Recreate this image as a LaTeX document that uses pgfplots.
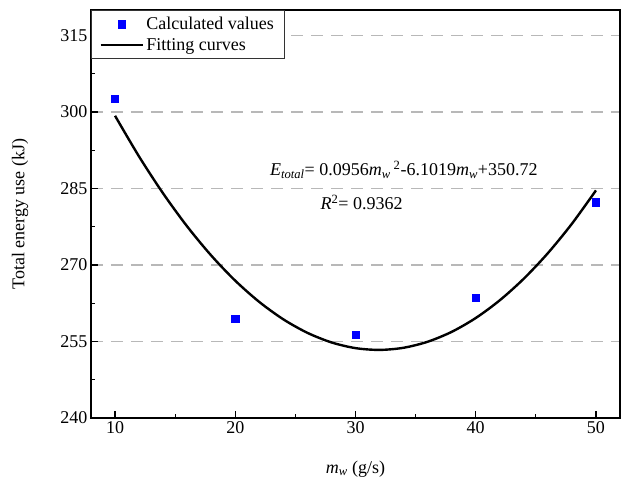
\documentclass[border=0pt]{standalone}
\usepackage{pgfplots}
\pgfplotsset{compat=1.18}
\usepackage{fontspec}
\setmainfont{Liberation Serif}

\pgfplotsset{
	markleg/.style={legend image code/.code={\draw[##1] plot coordinates {(0.75cm,0cm)};}},
	lineleg/.style={legend image code/.code={\draw[##1] (0cm,0cm) -- (1.5cm,0cm);}},
}

\begin{document}
\begin{tikzpicture}[font=\fontsize{18}{21}\selectfont]
	\begin{axis}[
			scale only axis,
			width=529pt,
			height=408pt,
			xmin=8, xmax=52,
			ymin=240, ymax=320,
			xtick={10,20,...,50},
			ytick={240,255,...,315},
			minor x tick num=1,
			minor y tick num=1,
			tick align=inside,
			tick pos=left,
			major tick length=7pt,
			minor tick length=4pt,
			every tick/.style={black, line width=1.2pt},
			axis line style={line width=1.5pt},
			ymajorgrids,
			grid style={black!28, line width=1.5pt, dash pattern=on 12pt off 8pt},
			/pgf/number format/assume math mode=true,
			legend style={
				at={(0,1)}, anchor=north west,
				draw=black!80, line width=0.7pt,
				inner xsep=8pt, inner ysep=5pt,
				row sep=3pt,
				cells={anchor=west},
				font=\fontsize{18}{21}\selectfont,
			},
		]

		% calculated values
		\addplot [only marks, mark=square*, mark size=3.6pt, blue,
			mark options={draw=blue, fill=blue}, markleg]
		table {
		10	302.6
		20	259.4
		30	256.3
		40	263.6
		50	282.3
		};
		\addlegendentry{Calculated values}

		% fitting curve
		\addplot [black, line width=2.4pt, smooth, no marks, lineleg]
		table {
		10	299.26
		12	291.26
		14	284.03
		16	277.56
		18	271.86
		20	266.92
		22	262.75
		24	259.34
		26	256.70
		28	254.82
		30	253.70
		32	253.35
		34	253.77
		36	254.95
		38	256.89
		40	259.60
		42	263.08
		44	267.32
		46	272.32
		48	278.09
		50	284.63
		};
		\addlegendentry{Fitting curves}

		\node[anchor=west] at (axis cs:22.6,288.7)
			{\textit{E}\textsubscript{\textit{total}}= 0.0956\textit{m}\textsubscript{\textit{w}}\,\textsuperscript{2}-6.1019\textit{m}\textsubscript{\textit{w}}+350.72};
		\node[anchor=west] at (axis cs:26.8,282.2)
			{\textit{R}\textsuperscript{2}= 0.9362};
	\end{axis}
	\node[rotate=90] at ([xshift=-71pt]current axis.west) {Total energy use (kJ)};
	\node at ([yshift=-51pt]current axis.south) {\textit{m}\textsubscript{\textit{w}} (g/s)};
	\path (current axis.south west) ++(-91pt,-67pt);
	\path (current axis.north east) ++(1pt,10pt);
\end{tikzpicture}
\end{document}
